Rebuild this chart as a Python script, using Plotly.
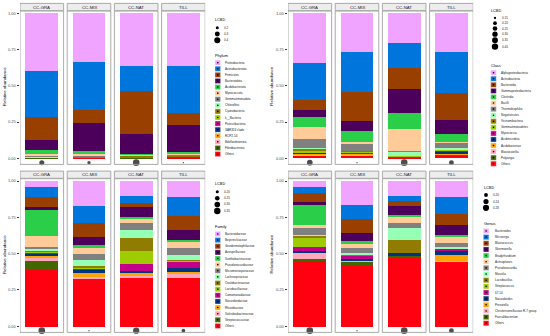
import plotly.graph_objects as go
import math

W, H = 550, 336
facets = ["CC-GRA", "CC-MIX", "CC-NAT", "TILL"]
palette = ["#F0A3FF", "#0075DC", "#993F00", "#4C005C", "#2BCE48", "#FFCC99",
           "#808080", "#94FFB5", "#8F7C00", "#9DCC00", "#C20088", "#003380",
           "#FFA405", "#FFA8BB", "#426600", "#FF0010"]

# ---------------- Phylum ----------------
phylum_taxa = ["Proteobacteria", "Actinobacteriota", "Firmicutes", "Bacteroidota",
               "Acidobacteriota", "Myxococcota", "Gemmatimonadota", "Chloroflexi",
               "Cyanobacteria", "k__Bacteria", "Patescibacteria", "SAR324 clade",
               "RCP2-54", "Bdellovibrionota", "Fibrobacterota", "Others"]
phylum_abund = [
    [0.395, 0.338, 0.361, 0.361],
    [0.322, 0.331, 0.179, 0.329],
    [0.156, 0.087, 0.292, 0.080],
    [0.069, 0.193, 0.140, 0.184],
    [0.032, 0.021, 0.003, 0.016],
    [0.006, 0.007, 0.005, 0.006],
    [0.008, 0.008, 0.002, 0.005],
    [0.005, 0.004, 0.001, 0.003],
    [0.001, 0.002, 0.012, 0.006],
    [0.001, 0.001, 0.001, 0.001],
    [0.001, 0.001, 0.0005, 0.001],
    [0.0005, 0.0005, 0.0005, 0.0005],
    [0.0005, 0.0005, 0.0005, 0.0005],
    [0.001, 0.001, 0.001, 0.001],
    [0.0005, 0.0005, 0.0005, 0.0005],
    [0.002, 0.004, 0.002, 0.006],
]
phylum_lcbd = [0.31, 0.21, 0.45, 0.17]
phylum_breaks = [0.2, 0.3, 0.4]
phylum_break_labels = ["0.2", "0.3", "0.4"]

# ---------------- Class ----------------
class_taxa = ["Alphaproteobacteria", "Actinobacteria", "Bacteroidia", "Gammaproteobacteria",
              "Clostridia", "Bacilli", "Thermoleophilia", "Negativicutes", "Vicinamibacteria",
              "Gemmatimonadetes", "Myxococcia", "Acidimicrobiia", "Acidobacteriae",
              "Blastocatellia", "Polyangia", "Others"]
class_abund = [
    [0.345, 0.264, 0.202, 0.269],
    [0.253, 0.276, 0.177, 0.283],
    [0.069, 0.200, 0.145, 0.184],
    [0.050, 0.071, 0.161, 0.096],
    [0.069, 0.074, 0.113, 0.058],
    [0.083, 0.012, 0.151, 0.004],
    [0.062, 0.050, 0.0065, 0.032],
    [0.002, 0.002, 0.028, 0.010],
    [0.016, 0.007, 0.0005, 0.006],
    [0.008, 0.004, 0.0005, 0.006],
    [0.004, 0.005, 0.001, 0.008],
    [0.006, 0.004, 0.0005, 0.008],
    [0.010, 0.006, 0.001, 0.008],
    [0.004, 0.003, 0.001, 0.004],
    [0.003, 0.002, 0.001, 0.002],
    [0.016, 0.020, 0.011, 0.022],
]
class_lcbd = [0.33, 0.14, 0.42, 0.27]
class_breaks = [0.15, 0.20, 0.25, 0.30, 0.35, 0.40]
class_break_labels = ["0.15", "0.20", "0.25", "0.30", "0.35", "0.40"]

# ---------------- Family ----------------
family_taxa = ["Bacteroidaceae", "Beijerinckiaceae", "Geodermatophilaceae", "Azospirillaceae",
               "Xanthobacteraceae", "Pseudonocardiaceae", "Micromonosporaceae", "Lachnospiraceae",
               "Oxalobacteraceae", "Lactobacillaceae", "Comamonadaceae", "Nocardioidaceae",
               "Rhizobiaceae", "Solirubrobacteraceae", "Streptococcaceae", "Others"]
family_abund = [
    [0.039, 0.170, 0.101, 0.110],
    [0.071, 0.115, 0.046, 0.131],
    [0.067, 0.096, 0.030, 0.096],
    [0.023, 0.057, 0.069, 0.069],
    [0.175, 0.018, 0.011, 0.011],
    [0.076, 0.044, 0.030, 0.044],
    [0.018, 0.044, 0.046, 0.048],
    [0.006, 0.041, 0.055, 0.030],
    [0.006, 0.009, 0.092, 0.009],
    [0.012, 0.003, 0.089, 0.001],
    [0.006, 0.016, 0.046, 0.046],
    [0.016, 0.021, 0.014, 0.030],
    [0.006, 0.023, 0.025, 0.016],
    [0.028, 0.018, 0.005, 0.023],
    [0.064, 0.002, 0.001, 0.001],
    [0.387, 0.323, 0.340, 0.335],
]
family_lcbd = [0.36, 0.18, 0.34, 0.22]
family_breaks = [0.20, 0.25, 0.30, 0.35]
family_break_labels = ["0.20", "0.25", "0.30", "0.35"]

# ---------------- Genus ----------------
genus_taxa = ["Bacteroides", "Microvirga", "Blastococcus", "Skermanella", "Bradyrhizobium",
              "Actinoplanes", "Pseudonocardia", "Massilia", "Lactobacillus", "Streptococcus",
              "67-14", "Nocardioides", "Prevotella", "Christensenellaceae R-7 group",
              "Faecalibacterium", "Others"]
genus_abund = [
    [0.039, 0.166, 0.101, 0.110],
    [0.044, 0.096, 0.037, 0.112],
    [0.060, 0.092, 0.032, 0.080],
    [0.023, 0.060, 0.064, 0.069],
    [0.133, 0.014, 0.007, 0.011],
    [0.023, 0.032, 0.046, 0.041],
    [0.050, 0.034, 0.034, 0.028],
    [0.001, 0.012, 0.085, 0.011],
    [0.011, 0.004, 0.085, 0.001],
    [0.069, 0.002, 0.001, 0.001],
    [0.030, 0.026, 0.001, 0.011],
    [0.009, 0.004, 0.018, 0.030],
    [0.001, 0.004, 0.001, 0.041],
    [0.041, 0.004, 0.001, 0.005],
    [0.009, 0.030, 0.014, 0.001],
    [0.457, 0.420, 0.473, 0.448],
]
genus_lcbd = [0.30, 0.17, 0.30, 0.23]
genus_breaks = [0.20, 0.24, 0.28]
genus_break_labels = ["0.20", "0.24", "0.28"]

y_tickvals = [0, 0.25, 0.5, 0.75, 1.0]
y_ticktext = ["0.00", "0.25", "0.50", "0.75", "1.00"]

# ---------------- layout helpers (pixels) ----------------
def px(x):
    return x / W

def py(y):
    return 1 - y / H

FONT = "Liberation Sans"
YR = [-0.042, 1.016]
DOT_Y = -0.03
HALF = 0.462
BARW = 0.693

panels = [
    dict(taxa=phylum_taxa, ab=phylum_abund, lcbd=phylum_lcbd, brk=phylum_breaks,
         brk_lab=phylum_break_labels, title="Phylum",
         x=(20, 205.2), y=(11, 164.4), ytitle_x=4.5,
         leg=dict(x=214, lcbd_y=20, dot_x=217.3, dot_ys=[27.7, 34, 40.3], lab_x=221.5,
                  title_y=55.3, sw_x=215, sw_y0=62.7, sw_dy=6.09, txt_x=223)),
    dict(taxa=class_taxa, ab=class_abund, lcbd=class_lcbd, brk=class_breaks,
         brk_lab=class_break_labels, title="Class",
         x=(288, 473.2), y=(11, 164.4), ytitle_x=272,
         leg=dict(x=490, lcbd_y=10.7, dot_x=495, dot_ys=[18, 23.2, 28.5, 34.2, 40.2, 46.6], lab_x=499.5,
                  title_y=65.3, sw_x=490.7, sw_y0=72.7, sw_dy=6.07, txt_x=499.3)),
    dict(taxa=family_taxa, ab=family_abund, lcbd=family_lcbd, brk=family_breaks,
         brk_lab=family_break_labels, title="Family",
         x=(20, 205.2), y=(178.7, 332.4), ytitle_x=4.5,
         leg=dict(x=214, lcbd_y=184.3, dot_x=217.3, dot_ys=[191.7, 198.3, 204.5, 211], lab_x=221.5,
                  title_y=226, sw_x=215, sw_y0=234, sw_dy=6.13, txt_x=223)),
    dict(taxa=genus_taxa, ab=genus_abund, lcbd=genus_lcbd, brk=genus_breaks,
         brk_lab=genus_break_labels, title="Genus",
         x=(288, 473.2), y=(178.7, 332.4), ytitle_x=272,
         leg=dict(x=482.7, lcbd_y=188.3, dot_x=486, dot_ys=[195, 201.5, 207.8], lab_x=490.5,
                  title_y=223.3, sw_x=483.3, sw_y0=231, sw_dy=6.15, txt_x=492.7)),
]

fig = go.Figure()
shapes = []
annotations = []
layout_axes = {}

DMIN, DMAX = 1.3, 6.6

for i, p in enumerate(panels):
    n = i + 1
    xa = "x" if n == 1 else f"x{n}"
    ya = "y" if n == 1 else f"y{n}"
    lo = min(p["lcbd"] + p["brk"])
    hi = max(p["lcbd"] + p["brk"])

    def dsize(v, lo=lo, hi=hi):
        return DMIN + (DMAX - DMIN) * math.sqrt((v - lo) / (hi - lo))

    # stacked bars: last level at bottom, first level on top
    for k in reversed(range(len(p["taxa"]))):
        fig.add_trace(go.Bar(x=facets, y=p["ab"][k], name=p["taxa"][k],
                             marker=dict(color=palette[k], line=dict(width=0)),
                             width=BARW, xaxis=xa, yaxis=ya, showlegend=False,
                             hoverinfo="name+y"))
    fig.add_trace(go.Scatter(x=facets, y=[DOT_Y] * 4, mode="markers",
                             marker=dict(color="black", size=[dsize(v) for v in p["lcbd"]],
                                         line=dict(width=0)),
                             xaxis=xa, yaxis=ya, showlegend=False, cliponaxis=False,
                             text=[f"LCBD {v}" for v in p["lcbd"]], hoverinfo="text"))

    xkey = "xaxis" if n == 1 else f"xaxis{n}"
    ykey = "yaxis" if n == 1 else f"yaxis{n}"
    layout_axes[xkey] = dict(domain=[px(p["x"][0]), px(p["x"][1])], range=[-HALF, 3 + HALF],
                             type="category", showticklabels=False, ticks="", showgrid=False,
                             zeroline=False, showline=False, anchor=ya, fixedrange=True)
    layout_axes[ykey] = dict(domain=[py(p["y"][1]), py(p["y"][0])], range=YR,
                             tickvals=y_tickvals, ticktext=y_ticktext, ticks="outside",
                             ticklen=2.5, tickwidth=0.6, tickcolor="#333333",
                             tickfont=dict(size=4.0, color="#4D4D4D", family=FONT),
                             showgrid=False, zeroline=False, showline=False, anchor=xa,
                             fixedrange=True)

    # facet borders and strips
    strip_top = p["y"][0] - 7.6
    for j, f in enumerate(facets):
        shapes.append(dict(type="rect", xref=xa, yref=f"{ya} domain",
                           x0=j - HALF, x1=j + HALF, y0=0, y1=1,
                           line=dict(color="#A0A0A0", width=0.9), layer="above"))
        shapes.append(dict(type="rect", xref=xa, yref="paper",
                           x0=j - HALF, x1=j + HALF, y0=py(p["y"][0] - 0.4), y1=py(strip_top),
                           line=dict(color="#A0A0A0", width=0.9), fillcolor="#EDEDED",
                           layer="above"))
        annotations.append(dict(text=f, xref=xa, yref="paper", x=j,
                                y=py((p["y"][0] - 0.4 + strip_top) / 2), showarrow=False,
                                xanchor="center", yanchor="middle",
                                font=dict(size=4.3, color="#1A1A1A", family=FONT)))

    # y-axis title
    annotations.append(dict(text="Relative abundance", xref="paper", yref="paper",
                            x=px(p["ytitle_x"]), y=py((p["y"][0] + p["y"][1]) / 2 - 1),
                            textangle=-90, showarrow=False, xanchor="center", yanchor="middle",
                            font=dict(size=4.4, color="black", family=FONT)))

    # legends
    L = p["leg"]
    annotations.append(dict(text="LCBD", xref="paper", yref="paper", x=px(L["x"] - 1),
                            y=py(L["lcbd_y"]), showarrow=False, xanchor="left", yanchor="middle",
                            font=dict(size=3.8, color="black", family=FONT)))
    for b, lab, yy in zip(p["brk"], p["brk_lab"], L["dot_ys"]):
        d = dsize(b)
        shapes.append(dict(type="circle", xref="paper", yref="paper",
                           x0=px(L["dot_x"] - d / 2), x1=px(L["dot_x"] + d / 2),
                           y0=py(yy + d / 2), y1=py(yy - d / 2),
                           fillcolor="black", line=dict(width=0)))
        annotations.append(dict(text=lab, xref="paper", yref="paper", x=px(L["lab_x"]), y=py(yy),
                                showarrow=False, xanchor="left", yanchor="middle",
                                font=dict(size=3.0, color="#222222", family=FONT)))
    annotations.append(dict(text=p["title"], xref="paper", yref="paper", x=px(L["x"] - 1),
                            y=py(L["title_y"]), showarrow=False, xanchor="left", yanchor="middle",
                            font=dict(size=3.9, color="black", family=FONT)))
    for k, t in enumerate(p["taxa"]):
        cy = L["sw_y0"] + k * L["sw_dy"]
        shapes.append(dict(type="rect", xref="paper", yref="paper",
                           x0=px(L["sw_x"]), x1=px(L["sw_x"] + 5.6),
                           y0=py(cy + 2.6), y1=py(cy - 2.6),
                           fillcolor=palette[k], line=dict(color="white", width=0.4)))
        cx = L["sw_x"] + 2.8
        shapes.append(dict(type="circle", xref="paper", yref="paper",
                           x0=px(cx - 0.8), x1=px(cx + 0.8), y0=py(cy + 0.8), y1=py(cy - 0.8),
                           fillcolor="black", line=dict(width=0)))
        annotations.append(dict(text=t, xref="paper", yref="paper", x=px(L["txt_x"]), y=py(cy),
                                showarrow=False, xanchor="left", yanchor="middle",
                                font=dict(size=3.0, color="#222222", family=FONT)))

fig.update_layout(
    width=W, height=H, margin=dict(l=0, r=0, t=0, b=0),
    paper_bgcolor="white", plot_bgcolor="white",
    barmode="stack", bargap=0, showlegend=False,
    shapes=shapes, annotations=annotations,
    font=dict(family=FONT),
    **layout_axes,
)

fig.write_html("out.html", config={"displayModeBar": False},
               post_script="document.body.style.margin='0';document.body.style.padding='0';")
